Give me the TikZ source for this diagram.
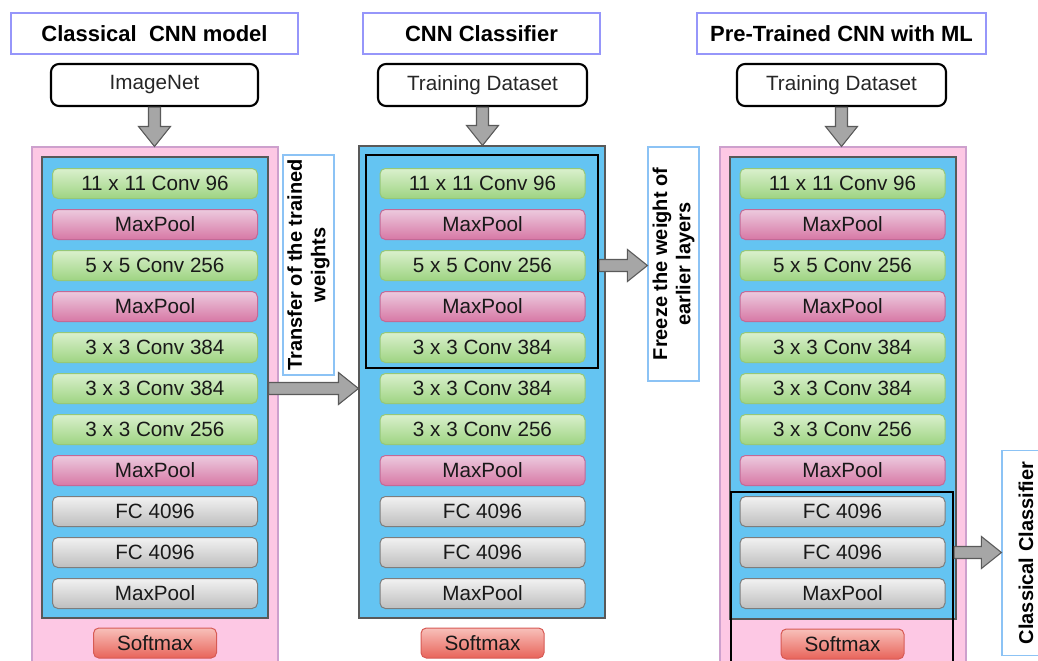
\documentclass[tikz,border=0pt]{standalone}
\usepackage{fontspec}
\setmainfont{Liberation Sans}
\usetikzlibrary{calc}

\definecolor{pinkbg}{RGB}{253,200,228}
\definecolor{pinkedge}{RGB}{205,160,205}
\definecolor{bluebg}{RGB}{100,196,242}
\definecolor{titleedge}{RGB}{150,150,250}
\definecolor{noteedge}{RGB}{140,195,245}
\definecolor{greentop}{RGB}{218,240,205}
\definecolor{greenbot}{RGB}{158,212,130}
\definecolor{greenedge}{RGB}{150,200,120}
\definecolor{pooltop}{RGB}{236,202,222}
\definecolor{poolbot}{RGB}{215,120,165}
\definecolor{pooledge}{RGB}{195,105,150}
\definecolor{fctop}{RGB}{242,242,242}
\definecolor{fcbot}{RGB}{190,190,190}
\definecolor{fcedge}{RGB}{125,125,125}
\definecolor{softtop}{RGB}{248,192,186}
\definecolor{softbot}{RGB}{232,100,90}
\definecolor{softedge}{RGB}{215,90,85}
\definecolor{arrowfill}{RGB}{166,166,166}
\definecolor{arrowedge}{RGB}{90,90,90}

\tikzset{
  layerbox/.style={draw, rounded corners=4pt, minimum width=153.75pt, minimum height=22.5pt,
    inner sep=0pt, line width=0.75pt, font=\fontsize{15.5}{18}\selectfont, text=black!90},
  convbox/.style={top color=greentop, bottom color=greenbot, draw=greenedge},
  poolbox/.style={top color=pooltop, bottom color=poolbot, draw=pooledge},
  fcbox/.style={top color=fctop, bottom color=fcbot, draw=fcedge},
  softbox/.style={layerbox, top color=softtop, bottom color=softbot, draw=softedge, minimum width=92.25pt},
  titlebox/.style={draw=titleedge, line width=1pt, minimum height=30.75pt, inner sep=0pt,
    font=\bfseries\fontsize{16.5}{20}\selectfont},
  inbox/.style={draw, line width=1.6pt, rounded corners=6pt, minimum height=31.5pt, inner sep=0pt,
    font=\fontsize{15.5}{18}\selectfont, text=black!85},
  notebox/.style={draw=noteedge, line width=0.9pt, rotate=90, align=center, inner sep=0pt,
    minimum height=38.25pt, font=\bfseries\fontsize{15}{17.5}\selectfont},
  pinkbox/.style={draw=pinkedge, fill=pinkbg, line width=0.8pt, inner sep=0pt},
  bluebox/.style={draw=black!65, fill=bluebg, line width=0.8pt, inner sep=0pt},
  stageframe/.style={draw=black, line width=1.6pt, inner sep=0pt},
  bigarrow/.style={draw=arrowedge, fill=arrowfill, line width=0.8pt},
}

% gray block arrows, node to node
\newcommand{\blockdown}[2]{%
  \draw[bigarrow] let \p1=(#1), \p2=(#2) in
    (\x1-4.5pt,\y1) -- (\x1-4.5pt,\y2+15pt) -- (\x1-12pt,\y2+15pt) -- (\x1,\y2)
    -- (\x1+12pt,\y2+15pt) -- (\x1+4.5pt,\y2+15pt) -- (\x1+4.5pt,\y1) -- cycle;}
\newcommand{\blockright}[3]{%
  \draw[bigarrow] let \p1=(#1 |- #3), \p2=(#2 |- #3) in
    (\x1,\y1-4.5pt) -- (\x2-15pt,\y1-4.5pt) -- (\x2-15pt,\y1-12pt) -- (\x2,\y1)
    -- (\x2-15pt,\y1+12pt) -- (\x2-15pt,\y1+4.5pt) -- (\x1,\y1+4.5pt) -- cycle;}

\begin{document}
\begin{tikzpicture}[x=0.75pt,y=-0.75pt]
\useasboundingbox (0,0) rectangle (1038,660);

% titles
\node[titlebox, minimum width=215.25pt] (t1) at (154.5,33.5) {Classical\ \ CNN model};
\node[titlebox, minimum width=177.75pt] (t2) at (481.5,33.5) {CNN Classifier};
\node[titlebox, minimum width=216.75pt] (t3) at (841.5,33.5) {Pre-Trained CNN with ML};

% inputs
\node[inbox, minimum width=155.25pt] (in1) at (154.5,85) {ImageNet};
\node[inbox, minimum width=156.75pt] (in2) at (482.5,85) {Training Dataset};
\node[inbox, minimum width=156.75pt] (in3) at (841.5,85) {Training Dataset};

% backgrounds
\node[pinkbox, minimum width=184.5pt, minimum height=387.75pt] (c1pink) at (155,405.5) {};
\node[bluebox, minimum width=169.5pt, minimum height=345.75pt] (c1blue) at (155,387.5) {};
\node[bluebox, minimum width=184.5pt, minimum height=354pt] (c2blue) at (482,382) {};
\node[pinkbox, minimum width=184.5pt, minimum height=387.75pt] (c3pink) at (843,405.5) {};
\node[bluebox, minimum width=169.5pt, minimum height=346.5pt] (c3blue) at (843,388) {};

% layers
\foreach \col/\cx in {1/155,2/482.5,3/842.5}{
  \foreach \txt/\kind [count=\i] in {11 x 11 Conv 96/convbox, MaxPool/poolbox, 5 x 5 Conv 256/convbox,
      MaxPool/poolbox, 3 x 3 Conv 384/convbox, 3 x 3 Conv 384/convbox, 3 x 3 Conv 256/convbox,
      MaxPool/poolbox, FC 4096/fcbox, FC 4096/fcbox, MaxPool/fcbox}
    \node[layerbox,\kind] (c\col l\i) at (\cx,{183.5+41*(\i-1)}) {\txt};
}
\node[softbox] (s1) at (155,643) {Softmax};
\node[softbox] (s2) at (482.5,643) {Softmax};
\node[softbox] (s3) at (842.5,644) {Softmax};

% frozen and replaced parts
\node[stageframe, minimum width=174pt, minimum height=159.75pt] (c2frame) at (482,261.5) {};
\node[stageframe, minimum width=166.5pt, minimum height=129pt] (c3frame) at (842,578) {};

% side notes
\node[notebox, minimum width=165pt] (transfer) at (308.5,265) {Transfer of the trained\\weights};
\node[notebox, minimum width=175.5pt] (freeze) at (673.5,264) {Freeze the weight of\\earlier layers};
\node[notebox, minimum width=153.75pt, minimum height=36pt] (clsf) at (1026,553) {Classical Classifier};

% arrows
\blockdown{in1.south}{c1pink.north}
\blockdown{in2.south}{c2blue.north}
\blockdown{in3.south}{c3pink.north}
\blockright{c1blue.east}{c2blue.west}{c1l6}
\blockright{c2frame.east}{freeze.north}{c2l3}
\blockright{c3frame.east}{clsf.north}{c3l10}
\end{tikzpicture}
\end{document}
